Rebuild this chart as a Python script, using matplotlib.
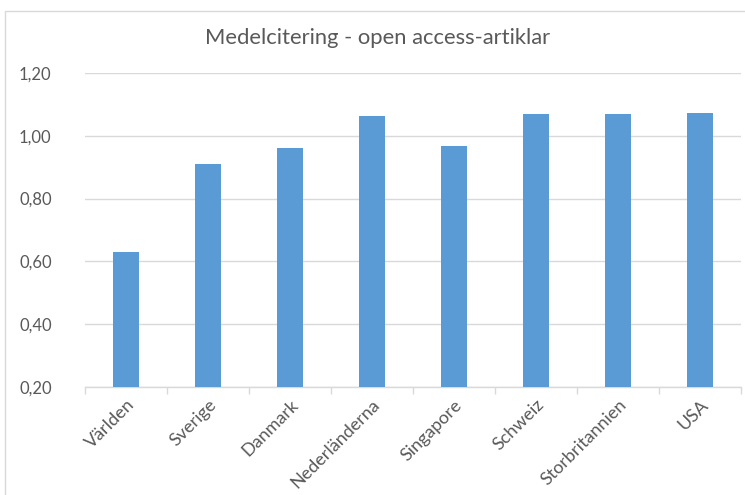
import numpy as np
import matplotlib
matplotlib.use("Agg")
import matplotlib.pyplot as plt
from matplotlib.patches import Rectangle
from matplotlib.ticker import FixedLocator, FuncFormatter

categories = ["Världen", "Sverige", "Danmark", "Nederländerna", "Singapore",
              "Schweiz", "Storbritannien", "USA"]
values = [0.630, 0.909, 0.962, 1.063, 0.967, 1.068, 1.071, 1.074]
yticks = [0.20, 0.40, 0.60, 0.80, 1.00, 1.20]
title = "Medelcitering - open access-artiklar"

plt.rcParams['font.family'] = ['Lato', 'DejaVu Sans']
W, H = 745, 495
fig = plt.figure(figsize=(W / 100, H / 100), dpi=100)
fig.patch.set_facecolor('white')

# chart-area border
fig.patches.append(Rectangle((5 / W, -0.1), 1.2, 1 - 11 / H + 0.1, transform=fig.transFigure,
                             fill=False, edgecolor='#D9D9D9', linewidth=1.0))

ax = fig.add_axes([85 / W, 1 - 387 / H, 656 / W, 314 / H])
x = np.arange(len(categories))
ax.bar(x, values, width=0.32, color='#5B9BD5', zorder=3)
ax.set_xlim(-0.5, len(categories) - 0.5)
ax.set_ylim(yticks[0], yticks[-1])

ax.yaxis.set_major_locator(FixedLocator(yticks))
ax.yaxis.set_major_formatter(FuncFormatter(lambda v, p: f"{v:.2f}".replace('.', ',')))
ax.grid(axis='y', color='#D9D9D9', linewidth=1.0, zorder=0)
ax.tick_params(axis='y', length=0, pad=24, labelsize=12, labelcolor='#595959')

ax.set_xticks(x)
ax.set_xticklabels(categories, rotation=45, ha='right', rotation_mode='anchor',
                   fontsize=13, color='#595959')
ax.tick_params(axis='x', which='major', length=0, pad=7)
ax.xaxis.set_minor_locator(FixedLocator(np.arange(-0.5, len(categories), 1.0)))
ax.tick_params(axis='x', which='minor', length=5, color='#D9D9D9', width=1.0)

for s in ['top', 'right', 'left']:
    ax.spines[s].set_visible(False)
ax.spines['bottom'].set_color('#D9D9D9')
ax.spines['bottom'].set_linewidth(1.0)

fig.text(378 / W, 1 - 38 / H, title, ha='center', va='center', fontsize=15.8, color='#595959')

fig.savefig('out.png', dpi=100)
